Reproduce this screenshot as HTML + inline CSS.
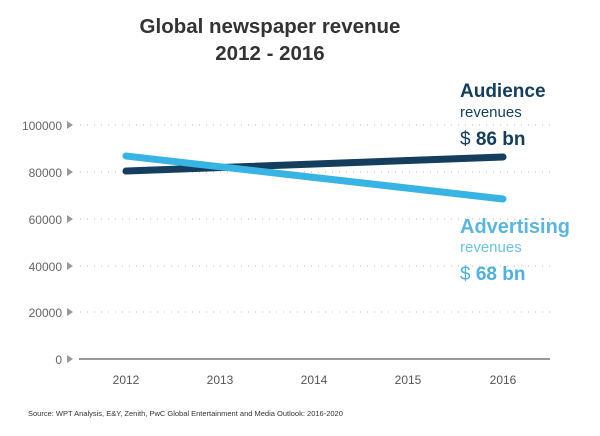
<!DOCTYPE html><html><head><style>body{margin:0;background:#fff}svg text{font-family:"Liberation Sans",sans-serif}</style></head><body>
<svg width="600" height="431" viewBox="0 0 600 431">
<text x="270" y="33" text-anchor="middle" font-size="20.5" font-weight="bold" fill="#333">Global newspaper revenue</text>
<text x="270" y="60" text-anchor="middle" font-size="20.5" font-weight="bold" fill="#333">2012 - 2016</text>
<g stroke="#bbb" stroke-width="1" stroke-dasharray="1 6">
<line x1="80" y1="125" x2="555" y2="125"/><line x1="80" y1="172" x2="555" y2="172"/><line x1="80" y1="219" x2="555" y2="219"/><line x1="80" y1="266" x2="555" y2="266"/><line x1="80" y1="312" x2="555" y2="312"/></g>
<line x1="79" y1="359" x2="550" y2="359" stroke="#777" stroke-width="1.5"/>
<g font-size="12" fill="#666" text-anchor="end">
<text x="62" y="130">100000</text><text x="62" y="177">80000</text><text x="62" y="224">60000</text><text x="62" y="271">40000</text><text x="62" y="317">20000</text><text x="62" y="364">0</text></g>
<g fill="#999"><path d="M67 121l6 4-6 4z"/><path d="M67 168l6 4-6 4z"/><path d="M67 215l6 4-6 4z"/><path d="M67 262l6 4-6 4z"/><path d="M67 308l6 4-6 4z"/><path d="M67 355l6 4-6 4z"/></g>
<g font-size="12" fill="#555" text-anchor="middle"><text x="126" y="384">2012</text><text x="220" y="384">2013</text><text x="314" y="384">2014</text><text x="408" y="384">2015</text><text x="503" y="384">2016</text></g>
<line x1="126" y1="171" x2="503" y2="157" stroke="#143d5e" stroke-width="7" stroke-linecap="round"/>
<line x1="126" y1="156" x2="503" y2="199" stroke="#37b4e4" stroke-width="7" stroke-linecap="round"/>
<text x="460" y="97" font-size="19" font-weight="bold" fill="#143d5e">Audience</text>
<text x="460" y="117" font-size="15" fill="#143d5e">revenues</text>
<text x="460" y="145" font-size="19" fill="#143d5e">$ <tspan font-weight="bold">86 bn</tspan></text>
<text x="460" y="233" font-size="20" font-weight="bold" fill="#5ab6e0">Advertising</text>
<text x="460" y="252" font-size="15" fill="#6dc0e6">revenues</text>
<text x="460" y="280" font-size="19" fill="#4cb0e0">$ <tspan font-weight="bold">68 bn</tspan></text>
<text x="28" y="416" font-size="7.5" fill="#333">Source: WPT Analysis, E&amp;Y, Zenith, PwC Global Entertainment and Media Outlook: 2016-2020</text>
</svg></body></html>
